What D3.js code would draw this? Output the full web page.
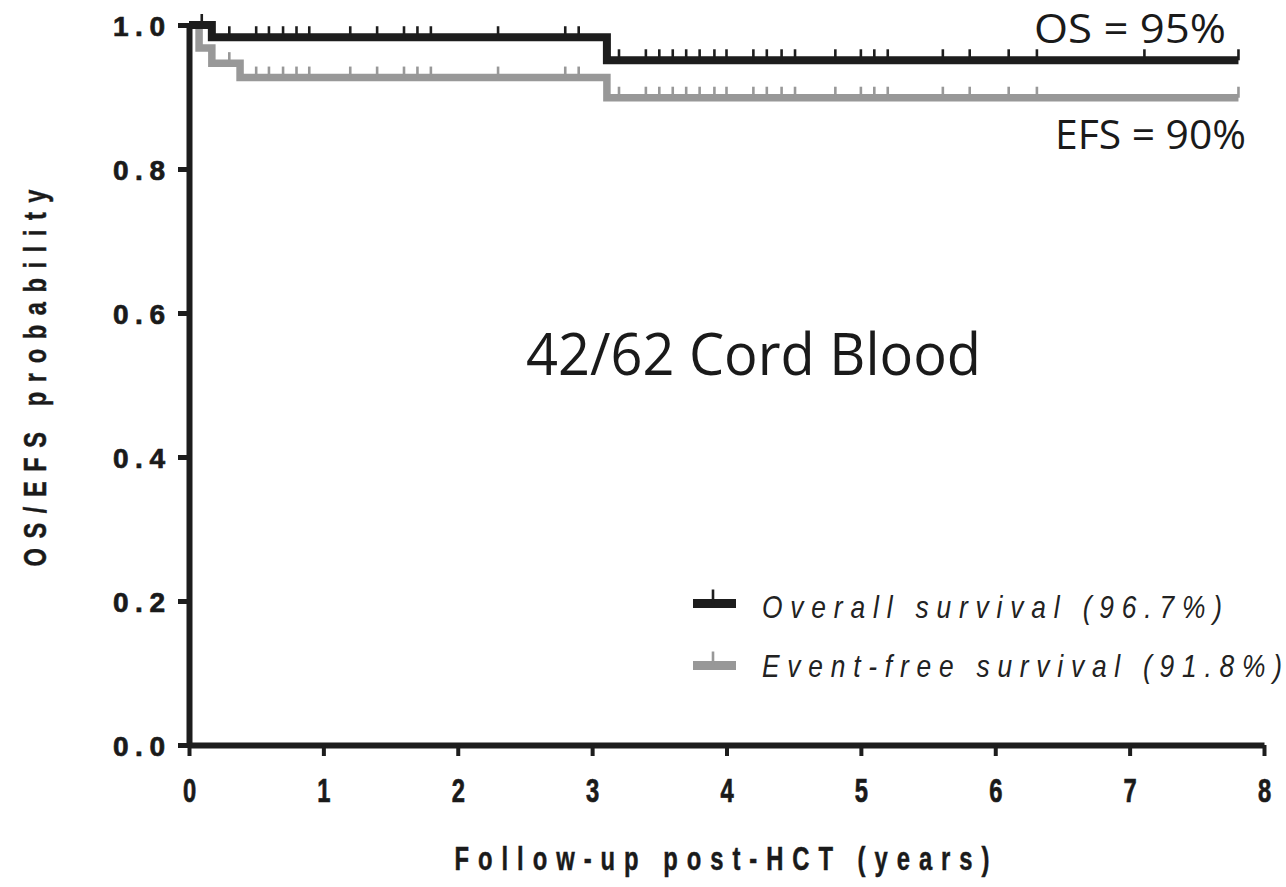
<!DOCTYPE html>
<html><head><meta charset="utf-8">
<script src="https://cdn.jsdelivr.net/npm/d3@7"></script>
<style>body{margin:0;background:#fff}svg{display:block}</style>
</head><body>
<svg id="c" width="1286" height="887"></svg>
<script>
// ---- data ----
const xTickValues = [0,1,2,3,4,5,6,7,8];
const yTickValues = [0,0.2,0.4,0.6,0.8,1.0];
const yTickLabels = ["0.0","0.2","0.4","0.6","0.8","1.0"];
const osTimes = [0, 0.17, 3.11, 7.81];
const osSurv  = [1.0, 0.983, 0.951, 0.951];
const efsTimes = [0, 0.075, 0.17, 0.38, 3.11, 7.81];
const efsSurv  = [1.0, 0.968, 0.947, 0.927, 0.899, 0.899];
const osCensor = [0.095,0.30,0.50,0.595,0.70,0.80,0.895,1.20,1.40,1.60,1.70,1.80,2.30,2.80,2.90,
  3.20,3.40,3.50,3.60,3.70,3.80,3.91,4.00,4.20,4.30,4.41,4.51,4.81,5.00,5.10,5.20,5.61,5.81,6.10,6.31,7.11,7.81];
const efsCensor = [0.30,0.50,0.595,0.70,0.80,0.895,1.20,1.40,1.60,1.70,1.80,2.30,2.80,2.90,
  3.20,3.40,3.50,3.60,3.70,3.80,3.91,4.00,4.20,4.30,4.41,4.51,4.81,5.00,5.10,5.20,5.61,5.81,6.10,6.31,7.81];
const seriesNames = ["Overall survival (96.7%)", "Event-free survival (91.8%)"];
const xTitle = "Follow-up post-HCT (years)";
const yTitle = "OS/EFS probability";
const centerNote = "42/62 Cord Blood";
const osNote = "OS = 95%";
const efsNote = "EFS = 90%";

// ---- setup ----
const svg = d3.select("#c");
const x = d3.scaleLinear().domain([0,8]).range([189,1264]);
const y = d3.scaleLinear().domain([0,1]).range([745,25]);
const black = "#1d1d1d", gray = "#989898";
const boldFont = "'Liberation Sans', Arial, sans-serif";
const ink = "#1a1a1a";

// axes
const gy = svg.append("g").attr("transform","translate(189,0)")
  .call(d3.axisLeft(y).tickValues(yTickValues).tickFormat((d,i)=>yTickLabels[i]).tickSize(11).tickSizeOuter(0).tickPadding(13));
gy.select(".domain").attr("stroke",black).attr("stroke-width",6);
gy.selectAll(".tick line").attr("stroke",black).attr("stroke-width",5);
gy.selectAll(".tick text").attr("fill",ink).attr("stroke",ink).attr("stroke-width",0.7)
  .attr("font-family",boldFont).attr("font-weight","bold")
  .attr("font-size",28).attr("dy","0.36em").attr("textLength",52).attr("lengthAdjust","spacing");

const gx = svg.append("g").attr("transform","translate(0,745)")
  .call(d3.axisBottom(x).tickValues(xTickValues).tickFormat(d3.format("d")).tickSize(11).tickSizeOuter(0));
gx.select(".domain").attr("stroke",black).attr("stroke-width",6);
gx.selectAll(".tick line").attr("stroke",black).attr("stroke-width",4);
gx.selectAll(".tick text").attr("fill",ink).attr("stroke",ink).attr("stroke-width",0.7)
  .attr("font-family",boldFont).attr("font-weight","bold")
  .attr("font-size",33).attr("y",57).attr("dy",0).attr("transform","scale(0.72,1)");

// axis titles
svg.append("g").attr("transform","translate(722,870) scale(0.7,1)")
  .append("text").attr("text-anchor","middle").attr("font-family",boldFont).attr("font-weight","bold")
  .attr("font-size",34).attr("fill",ink).attr("stroke",ink).attr("stroke-width",0.5)
  .attr("textLength",535/0.7).attr("lengthAdjust","spacing")
  .text(xTitle);
svg.append("g").attr("transform","translate(46,378) rotate(-90) scale(0.74,1)")
  .append("text").attr("text-anchor","middle").attr("font-family",boldFont).attr("font-weight","bold")
  .attr("font-size",32).attr("fill",ink).attr("stroke",ink).attr("stroke-width",0.5)
  .attr("textLength",377/0.74).attr("lengthAdjust","spacing")
  .text(yTitle);

// curves
function stepVal(times, surv, t){ let v = surv[0]; for(let i=0;i<times.length;i++){ if(times[i] <= t) v = surv[i]; } return v; }
const line = d3.line().x(d=>x(d[0])).y(d=>y(d[1])).curve(d3.curveStepAfter);
function drawCurve(times, surv, censor, color, width){
  const pts = times.map((t,i)=>[t,surv[i]]);
  svg.append("path").datum(pts).attr("d",line).attr("fill","none").attr("stroke",color)
    .attr("stroke-width",width).attr("stroke-linejoin","miter").attr("stroke-linecap","butt");
  svg.append("g").selectAll("line").data(censor).join("line")
    .attr("x1",d=>x(d)).attr("x2",d=>x(d))
    .attr("y1",d=>y(stepVal(times,surv,d))).attr("y2",d=>y(stepVal(times,surv,d))-11)
    .attr("stroke",color).attr("stroke-width",2.6);
}
drawCurve(efsTimes, efsSurv, efsCensor, gray, 7.5);
drawCurve(osTimes, osSurv, osCensor, black, 8);

// legend
const legend = svg.append("g");
const legendRows = [{name:seriesNames[0], color:black, yc:603.5, base:618},
                    {name:seriesNames[1], color:gray, yc:665.5, base:677}];
const legendWidths = [460, 520];
legendRows.forEach((r,i)=>{
  legend.append("line").attr("x1",693).attr("x2",736).attr("y1",r.yc).attr("y2",r.yc)
    .attr("stroke",r.color).attr("stroke-width",9);
  legend.append("line").attr("x1",713).attr("x2",713).attr("y1",r.yc).attr("y2",r.yc-14)
    .attr("stroke",r.color).attr("stroke-width",2.6);
  legend.append("g").attr("transform",`translate(762,${r.base}) scale(0.85,1)`)
    .append("text").attr("font-family",boldFont).attr("font-style","italic").attr("font-size",31)
    .attr("fill","#222").attr("textLength",legendWidths[i]/0.85).attr("lengthAdjust","spacing").text(r.name);
});

// annotations
const noteFont = "'Open Sans', 'Noto Sans', sans-serif";
svg.append("text").attr("x",526).attr("y",375).attr("font-family",noteFont).attr("font-size",58)
  .attr("fill",ink).attr("textLength",455).attr("lengthAdjust","spacingAndGlyphs").text(centerNote);
svg.append("text").attr("x",1034).attr("y",43).attr("font-family",noteFont).attr("font-size",40)
  .attr("fill",ink).attr("textLength",192).attr("lengthAdjust","spacingAndGlyphs").text(osNote);
svg.append("text").attr("x",1055).attr("y",149).attr("font-family",noteFont).attr("font-size",41)
  .attr("fill",ink).attr("textLength",191).attr("lengthAdjust","spacingAndGlyphs").text(efsNote);
</script>
</body></html>
